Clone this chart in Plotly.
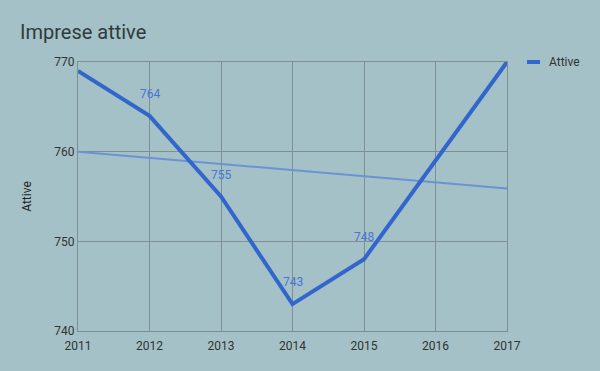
import plotly.graph_objects as go

years = [2011, 2012, 2013, 2014, 2015, 2016, 2017]
attive = [769, 764, 755, 743, 748, 759, 770]
label_years = [2012, 2013, 2014, 2015]
label_values = [764, 755, 743, 748]
trend_years = [2011, 2017]
trend_values = [760.0, 755.9]
y_ticks = [740, 750, 760, 770]
series_name = "Attive"

bg = "#a3c1c6"
grid = "#7e8f91"
txt = "#333333"
W, H = 600, 371

fig = go.Figure()
fig.add_trace(go.Scatter(x=trend_years, y=trend_values, mode="lines",
                         line=dict(color="#6b92d6", width=2), showlegend=False,
                         hoverinfo="skip"))
fig.add_trace(go.Scatter(x=years, y=attive, mode="lines", name=series_name,
                         line=dict(color="#3366cc", width=4), showlegend=False))

for xv, yv in zip(label_years, label_values):
    fig.add_annotation(x=xv, y=yv, text=str(yv), showarrow=False, yshift=22,
                       font=dict(family="Roboto", size=12, color="#4a74d6"))

# legend (custom, compact sample)
fig.add_shape(type="line", xref="paper", yref="paper",
              x0=(527 - 78) / (W - 78 - 93), x1=(540 - 78) / (W - 78 - 93),
              y0=1.0, y1=1.0,
              line=dict(color="#3366cc", width=4))
fig.add_annotation(xref="paper", yref="paper", x=(547 - 78) / (W - 78 - 93), y=1.0,
                   xanchor="left", yanchor="middle", showarrow=False, text=series_name,
                   font=dict(family="Roboto", size=12, color=txt))

fig.update_layout(
    width=W, height=H,
    paper_bgcolor=bg, plot_bgcolor=bg,
    margin=dict(l=78, r=93, t=62, b=40),
    font=dict(family="Roboto", size=12, color=txt),
    title=dict(text="Imprese attive", x=20/W, xanchor="left", y=1-32/H, yanchor="middle",
               font=dict(family="Roboto", size=20, color="#2f3b3c")),
    xaxis=dict(range=[2011, 2017], tickvals=years, showgrid=True, gridcolor=grid, gridwidth=1,
               zeroline=False, showline=True, linecolor=grid, mirror=True, ticks="",
               ticklabelstandoff=4, tickfont=dict(size=12, color=txt)),
    yaxis=dict(range=[740, 770], tickvals=y_ticks, showgrid=True, gridcolor=grid, gridwidth=1,
               zeroline=False, showline=True, linecolor=grid, mirror=True, ticks="",
               title=dict(text="Attive", font=dict(size=12, color="#222222"), standoff=20),
               tickfont=dict(size=12, color=txt)),
)

fig.write_html("out.html", config={"displayModeBar": False},
               post_script="document.body.style.margin='0';document.body.style.background='%s';" % bg)
